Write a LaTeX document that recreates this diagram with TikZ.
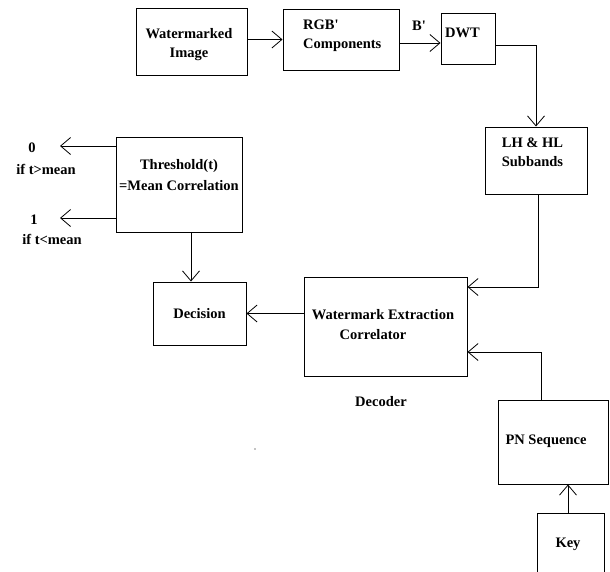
\documentclass[tikz,border=0pt]{standalone}
\usepackage{fontspec}
\setmainfont{Liberation Serif}
\usetikzlibrary{arrows.meta}
\begin{document}
\begin{tikzpicture}[x=1pt,y=-1pt,
  box/.style={draw, line width=1pt, inner sep=0pt},
  txt/.style={font=\bfseries\fontsize{14.5}{19}\selectfont, align=center, inner sep=0pt},
  arr/.style={draw, line width=1pt, -{Straight Barb[length=10pt,width=17pt,line width=0.8pt]}}]
\useasboundingbox (0,0) rectangle (610,571);
% boxes
\node[box, minimum width=111pt, minimum height=67pt] (wi)  at (191.5,41.5) {};
\node[box, minimum width=116pt, minimum height=61pt] (rgb) at (341,39.5) {};
\node[box, minimum width=54pt,  minimum height=51pt] (dwt) at (468,38.5) {};
\node[box, minimum width=102pt, minimum height=67pt] (lh)  at (536,160.5) {};
\node[box, minimum width=126pt, minimum height=95pt] (thr) at (179,184.5) {};
\node[box, minimum width=93pt,  minimum height=63pt] (dec) at (199.5,313.5) {};
\node[box, minimum width=163pt, minimum height=99pt] (wec) at (385.5,326.5) {};
\node[box, minimum width=110pt, minimum height=84pt] (pn)  at (553,442) {};
\node[box, minimum width=67pt,  minimum height=60pt] (key) at (570.5,543) {};
% texts
\node[txt] (wit) at (189,44.5) {Watermarked\\Image};
\node[txt, anchor=west, align=left] (rgbt) at (303,36) {RGB\textquotesingle\\Components};
\node[txt, anchor=west] (dwtt) at (445,33) {DWT};
\node[txt] (bp) at (419,26) {B\textquotesingle};
\node[txt] (lht) at (532.5,152.5) {LH \& HL\\Subbands};
\node[txt] (thrt) at (179,175) {Threshold(t)\\[2pt]=Mean Correlation};
\node[txt] (dect) at (199.5,314) {Decision};
\node[txt] (wect1) at (383,315) {Watermark Extraction};
\node[txt] (wect2) at (373,335) {Correlator};
\node[txt] (decoder) at (381,402) {Decoder};
\node[txt] (pnt) at (546,441) {PN Sequence};
\node[txt] (keyt) at (568,544) {Key};
\node[txt] (z0) at (32,148) {0};
\node[txt] (z0c) at (46,169) {if t>mean};
\node[txt] (z1) at (34,220) {1};
\node[txt] (z1c) at (52,239) {if t<mean};
% connectors
\coordinate (o0) at (60,146);
\coordinate (o1) at (60,218);
\draw[arr] (wi.east |- rgb.west) -- (rgb.west);
\draw[arr] ([yshift=-4.5pt]dwt.west -| rgb.east) -- ([yshift=-4.5pt]dwt.west);
\draw[arr] ([yshift=-6.5pt]dwt.east) -| (lh.north);
\draw[arr] ([xshift=2pt]lh.south) |- ([yshift=39.5pt]wec.east);
\draw[arr] ([xshift=-12pt]pn.north) |- ([yshift=-25.5pt]wec.east);
\draw[arr] ([xshift=-2.5pt]key.north) -- ([xshift=-2.5pt]key.north |- pn.south);
\draw[arr] (wec.west |- dec.east) -- (dec.east);
\draw[arr] ([xshift=12pt]thr.south) -- ([xshift=12pt]thr.south |- dec.north);
\draw[arr] (thr.west |- o0) -- (o0);
\draw[arr] (thr.west |- o1) -- (o1);
\coordinate (dot) at (255,449);
\fill (dot) circle (0.6pt);
\end{tikzpicture}
\end{document}
